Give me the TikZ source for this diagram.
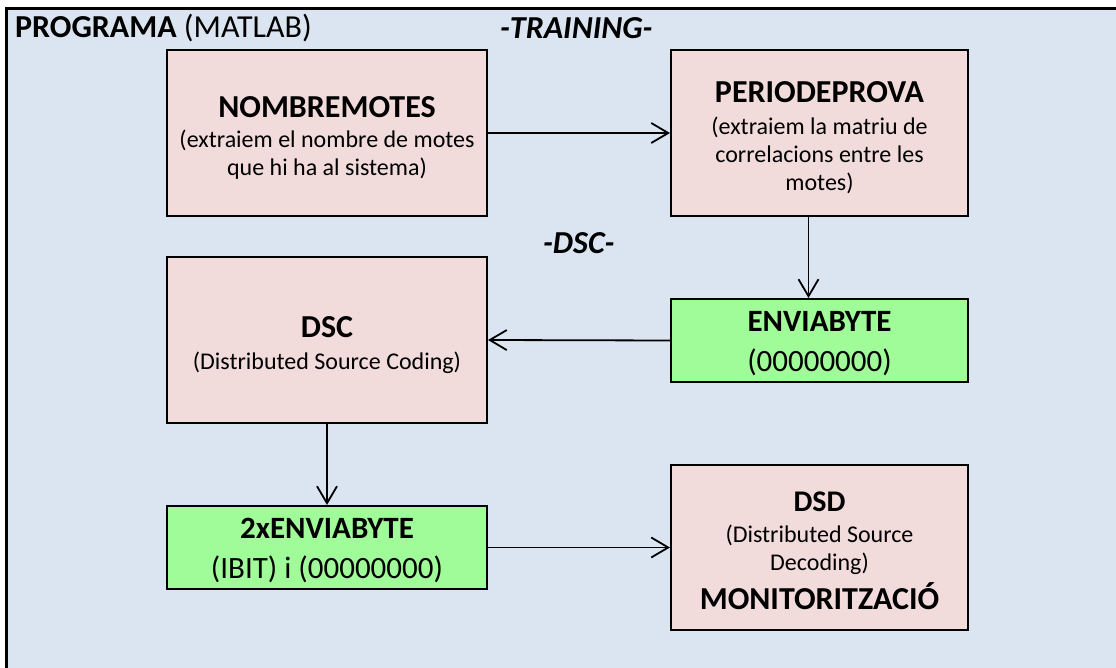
\documentclass[tikz,border=0pt]{standalone}
\usepackage{fontspec}
\setmainfont{Carlito}
\usetikzlibrary{arrows.meta,calc}
\definecolor{panelblue}{RGB}{219,229,241}
\definecolor{boxpink}{RGB}{242,220,219}
\definecolor{boxgreen}{RGB}{160,252,152}
\newcommand{\ttlf}{\fontsize{32}{36}\selectfont\bfseries}
\newcommand{\subtx}{\fontsize{24}{28}\selectfont}
\newcommand{\lrgf}{\fontsize{31}{40}\selectfont}
\newcommand{\tagf}{\fontsize{32}{36}\selectfont}
\begin{document}
\begin{tikzpicture}[x=1pt,y=-1pt,
  blk/.style={draw=black,line width=2pt,inner sep=0pt},
  pinkblk/.style={blk,fill=boxpink},
  greenblk/.style={blk,fill=boxgreen},
  pinktxt/.style={inner sep=0pt,align=center,text=black,font=\subtx},
  greentxt/.style={inner sep=0pt,align=center,text=black,font=\lrgf},
  flow/.style={line width=1.8pt,-{Straight Barb[length=17pt,width=20pt,line width=1.8pt]}},
  tag/.style={inner sep=0pt,anchor=west,text=black,font=\tagf}
]
\useasboundingbox (0,0) rectangle (1116,668);
% panel
\fill[panelblue] (6,9) rectangle (1120,672);
\draw[line width=3pt] (6,672) -- (6,9) -- (1120,9);

\node[tag] (prog) at (15,28) {\textbf{PROGRAMA} (MATLAB)};
\node[tag] (train) at (500,28) {\bfseries\itshape -TRAINING-};
\node[tag] (dsclbl) at (543,243) {\bfseries\itshape -DSC-};

% blocks
\node[pinkblk,minimum width=320pt,minimum height=166pt] (nm) at (327,133) {};
\node[pinkblk,minimum width=297pt,minimum height=166pt] (pp) at (819.5,133) {};
\node[pinkblk,minimum width=320pt,minimum height=166pt] (dsc) at (327,340) {};
\node[greenblk,minimum width=297pt,minimum height=83pt] (env) at (819.5,340.5) {};
\node[greenblk,minimum width=320pt,minimum height=83pt] (env2) at (327,547.5) {};
\node[pinkblk,minimum width=297pt,minimum height=165pt] (dsd) at (819.5,547.5) {};

% block texts
\node[pinktxt] (nmt) at ($(nm.center)+(0,5)$)
  {{\ttlf NOMBREMOTES}\\[2pt](extraiem el nombre de motes\\que hi ha al sistema)};
\node[pinktxt] (ppt) at ($(pp.center)+(0,5)$)
  {{\ttlf PERIODEPROVA}\\[4pt](extraiem la matriu de\\correlacions entre les\\motes)};
\node[pinktxt] (dsct) at ($(dsc.center)+(0,5)$)
  {{\ttlf DSC}\\[4pt](Distributed Source Coding)};
\node[greentxt] (envt) at ($(env.center)+(0,3)$)
  {{\bfseries ENVIABYTE}\\(00000000)};
\node[greentxt] (env2t) at ($(env2.center)+(0,3)$)
  {{\bfseries 2xENVIABYTE}\\(IBIT) i (00000000)};
\node[pinktxt] (dsdt) at ($(dsd.center)+(0,3)$)
  {{\fontsize{30}{34}\selectfont\bfseries DSD}\\[3pt](Distributed Source\\Decoding)\\[7pt]{\ttlf MONITORITZACIÓ}};

% connectors
\draw[flow] (nm.east) -- (pp.west);
\draw[flow] ($(pp.south)+(-11,0)$) -- ($(env.north)+(-11,0)$);
\draw[flow] (env.west) -- (dsc.east);
\draw[flow] (dsc.south) -- (env2.north);
\draw[flow] (env2.east) -- (dsd.west);
\end{tikzpicture}
\end{document}
